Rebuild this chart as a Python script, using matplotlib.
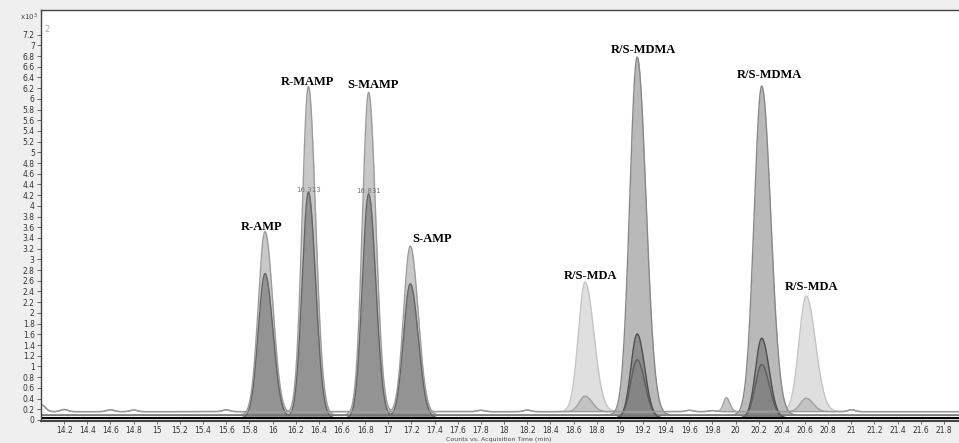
import numpy as np
import matplotlib.pyplot as plt

# retention time (min), counts in x10^3
t_min, t_max = 14.0, 21.93

# peaks: (centre, height, left sigma, right sigma)
mda_peaks = [(18.70, 2.42, 0.058, 0.076), (20.61, 2.16, 0.062, 0.080)]
mdma_peaks = [(19.15, 6.69, 0.064, 0.076), (20.226, 6.15, 0.066, 0.078)]
amp_light_peaks = [(15.935, 3.43, 0.058, 0.068), (16.31, 6.14, 0.054, 0.062),
                   (16.83, 6.03, 0.054, 0.062), (17.19, 3.16, 0.058, 0.068)]
amp_dark_peaks = [(15.935, 2.70, 0.058, 0.068), (16.31, 4.22, 0.054, 0.062),
                  (16.83, 4.19, 0.054, 0.062), (17.19, 2.51, 0.058, 0.068)]
mdma_dark_peaks = [(19.15, 1.57, 0.054, 0.064), (20.226, 1.49, 0.054, 0.064)]
mdma_darker_peaks = [(19.15, 1.09, 0.056, 0.066), (20.226, 1.00, 0.056, 0.066)]
small_peaks = [(18.70, 0.29, 0.05, 0.06), (19.92, 0.26, 0.025, 0.03), (20.61, 0.25, 0.05, 0.06)]

# baseline wiggles of the light trace: (centre, height)
baseline_bumps = [(14.01, 0.12), (14.2, 0.04), (14.6, 0.035), (14.8, 0.03), (15.6, 0.035),
                  (17.8, 0.025), (18.2, 0.03), (19.6, 0.025), (19.8, 0.02), (21.0, 0.035)]

labels = ['R-AMP', 'R-MAMP', 'S-MAMP', 'S-AMP', 'R/S-MDA', 'R/S-MDMA', 'R/S-MDMA', 'R/S-MDA']
label_x = [15.91, 16.30, 16.87, 17.375, 18.75, 19.205, 20.29, 20.66]
label_y = [3.61, 6.32, 6.26, 3.39, 2.69, 6.92, 6.45, 2.49]

rt_labels = ['16.313', '16.831']
rt_x = [16.31, 16.83]
rt_y = [4.30, 4.27]

x = np.linspace(t_min, t_max, 5000)


def trace(peaks):
    y = np.zeros_like(x)
    for c, h, sl, sr in peaks:
        s = np.where(x < c, sl, sr)
        y += h * np.exp(-0.5 * ((x - c) / s) ** 2)
    return y


base_light = 0.155 + sum(h * np.exp(-0.5 * ((x - c) / 0.03) ** 2) for c, h in baseline_bumps)
base_mid = 0.09
base_dark = 0.035

fig = plt.figure(figsize=(9.59, 4.43), dpi=100, facecolor='#efefef')
ax = fig.add_axes([41 / 959, 22 / 443, 918 / 959, 411 / 443])
ax.set_facecolor('white')

layers = [
    (mda_peaks, base_light, '#dcdcdc', '#c4c4c4'),
    (mdma_peaks, base_mid, '#b2b2b2', '#888888'),
    (amp_light_peaks, base_mid, '#c2c2c2', '#9c9c9c'),
    (amp_dark_peaks, base_dark, '#8e8e8e', '#666666'),
    (mdma_dark_peaks, base_dark, '#8a8a8a', '#4e4e4e'),
    (mdma_darker_peaks, base_dark, '#848484', '#5e5e5e'),
    (small_peaks, base_light, '#c0c0c0', '#a0a0a0'),
]
for peaks, base, fc, ec in layers:
    y = base + trace(peaks)
    ax.fill_between(x, base, y, color=fc, alpha=0.9, lw=0)
    ax.plot(x, y, color=ec, lw=1.0)

ax.plot(x, base_light, color='#9a9a9a', lw=0.9)
ax.plot(x, np.full_like(x, base_mid), color='#6a6a6a', lw=0.8)
ax.plot(x, np.full_like(x, base_dark), color='black', lw=1.6)

for name, lx, ly in zip(labels, label_x, label_y):
    ax.text(lx, ly, name, ha='center', va='center', fontsize=9, fontweight='bold',
            family='Liberation Serif', color='black')
for name, lx, ly in zip(rt_labels, rt_x, rt_y):
    ax.text(lx, ly, name, ha='center', va='center', fontsize=5, color='#777777')

ax.set_xlim(t_min, t_max)
ax.set_ylim(-0.02, 7.66)
xt = np.round(np.arange(14.2, 21.81, 0.2), 1)
yt = np.round(np.arange(0, 7.21, 0.2), 1)
ax.set_xticks(xt)
ax.set_xticklabels(['%g' % v for v in xt])
ax.set_yticks(yt)
ax.set_yticklabels(['%g' % v for v in yt])
ax.tick_params(direction='out', length=3, width=0.6, colors='#555555',
               labelsize=5.5, labelcolor='#333333', pad=1.5)
ax.tick_params(axis='x', length=2.5, pad=1)
for side in ['left', 'top', 'bottom']:
    ax.spines[side].set_color('#444444')
    ax.spines[side].set_linewidth(1.0)
ax.spines['bottom'].set_linewidth(1.5)
ax.spines['right'].set_visible(False)

fig.text(20 / 959, 1 - 17 / 443, 'x10$^3$', fontsize=5, color='#444444', va='center')
ax.text(14.03, 7.3, '2', fontsize=6, color='#aaaaaa', va='center')
fig.text(0.52, 0.5 / 443, 'Counts vs. Acquisition Time (min)', fontsize=4.5,
         color='#444444', ha='center', va='bottom')

fig.savefig('out.png', dpi=100, facecolor=fig.get_facecolor())
